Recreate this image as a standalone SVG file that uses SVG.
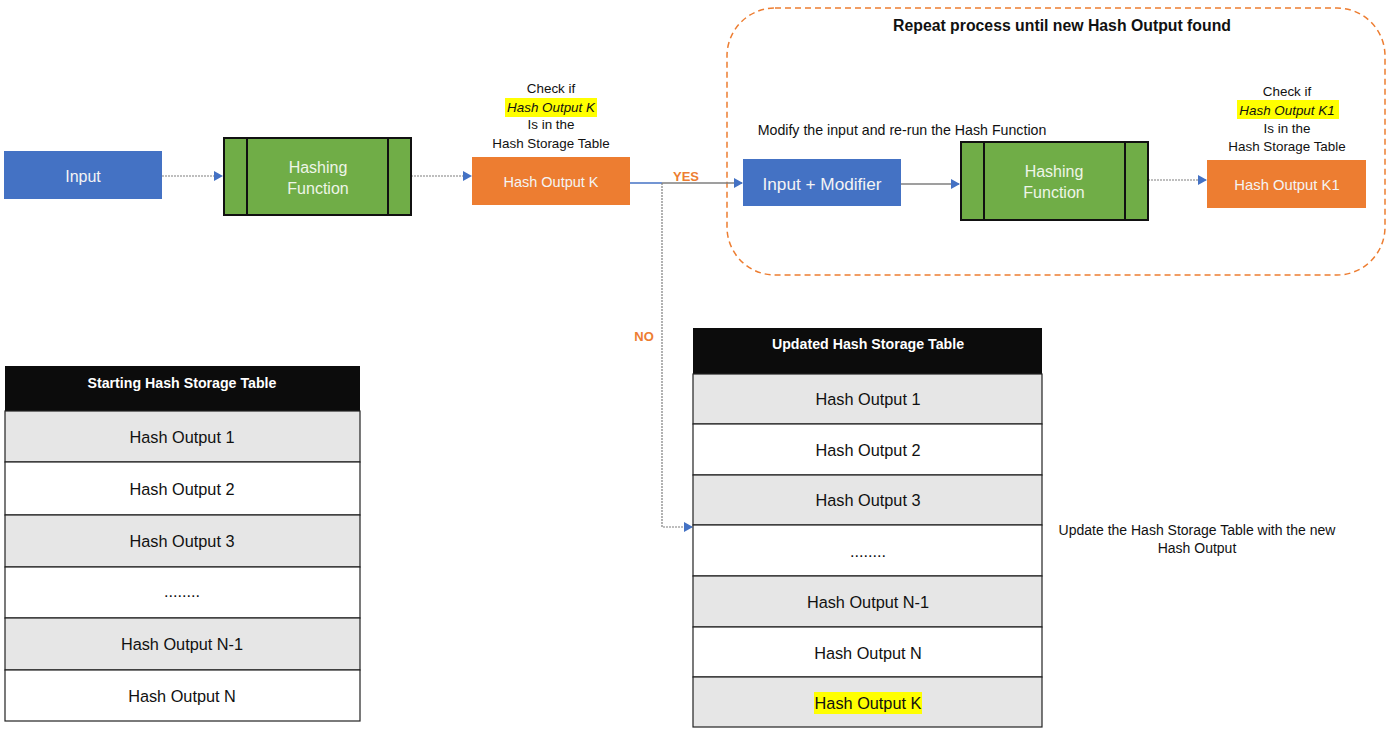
<svg xmlns="http://www.w3.org/2000/svg" width="1400" height="739" viewBox="0 0 1400 739">
<style>
text{font-family:"Liberation Sans",Arial,sans-serif;}
.box{stroke:none;}
.blue{fill:#4472C4;}
.orange{fill:#ED7D31;}
.green{fill:#70AD47;stroke:#111;stroke-width:2;}
.inner{stroke:#111;stroke-width:2;}
.wt{fill:#F4F4F4;text-anchor:middle;}
.gt{fill:#EEF5E8;text-anchor:middle;font-size:16px;}
.lbl{fill:#111;text-anchor:middle;font-size:13.4px;}
.hl{fill:#FFFF00;}
.conn{fill:none;stroke:#7F7F7F;stroke-width:1.2;stroke-dasharray:2 1;}
.conns{fill:none;stroke:#7F7F7F;stroke-width:1.3;}
.connb{fill:none;stroke:#4472C4;stroke-width:1.5;}
.ot{fill:#ED7D31;font-size:13px;font-weight:bold;text-anchor:middle;}
.hdr{fill:#0C0C0C;}
.rg{fill:#E6E6E6;stroke:#222;stroke-width:1.2;}
.rw{fill:#FFFFFF;stroke:#222;stroke-width:1.2;}
.ht{fill:#FFFFFF;font-weight:bold;font-size:14.2px;text-anchor:middle;}
.rt{fill:#111;font-size:16.3px;text-anchor:middle;}
</style>
<defs>
<marker id="ah" markerWidth="10" markerHeight="10" refX="8" refY="5" orient="auto" markerUnits="userSpaceOnUse">
<path d="M0,0 L9,5 L0,10 Z" fill="#4472C4"/>
</marker>
</defs>
<rect width="1400" height="739" fill="#FFFFFF"/>

<g id="repeat-region">
<rect x="727" y="8" width="658" height="267" rx="48" ry="48" fill="none" stroke="#ED7D31" stroke-width="1.5" stroke-dasharray="6 4"/>
<text x="1062" y="31" font-size="15.8" font-weight="bold" fill="#111" text-anchor="middle">Repeat process until new Hash Output found</text>
<text x="902" y="135" font-size="14.2" fill="#111" text-anchor="middle">Modify the input and re-run the Hash Function</text>
</g>

<g id="connectors">
<line class="conn" x1="162" y1="176" x2="222" y2="176" marker-end="url(#ah)"/>
<line class="conn" x1="411" y1="176" x2="471" y2="176" marker-end="url(#ah)"/>
<line class="connb" x1="630" y1="183" x2="662" y2="183"/>
<line class="conns" x1="662" y1="183" x2="742" y2="183" marker-end="url(#ah)"/>
<path class="conn" d="M662,183 L662,527 L692,527" marker-end="url(#ah)"/>
<line class="conns" x1="901" y1="184" x2="959" y2="184" marker-end="url(#ah)"/>
<line class="conn" x1="1148" y1="180" x2="1206" y2="180" marker-end="url(#ah)"/>
<text class="ot" x="686" y="181">YES</text>
<text class="ot" x="644" y="341">NO</text>
</g>

<g id="input">
<rect class="box blue" x="4" y="151" width="158" height="48"/>
<text class="wt" x="83" y="182" font-size="16">Input</text>
</g>

<g id="hashing-function-1">
<rect class="green" x="224" y="138" width="187" height="77"/>
<line class="inner" x1="247" y1="138" x2="247" y2="215"/>
<line class="inner" x1="388" y1="138" x2="388" y2="215"/>
<text class="gt" x="318" y="173">Hashing</text>
<text class="gt" x="318" y="194">Function</text>
</g>

<g id="hash-output-k">
<text class="lbl" x="551" y="93">Check if</text>
<rect class="hl" x="505" y="98" width="92" height="19"/>
<text class="lbl" x="551" y="112" font-style="italic">Hash Output K</text>
<text class="lbl" x="551" y="129">Is in the</text>
<text class="lbl" x="551" y="148">Hash Storage Table</text>
<rect class="box orange" x="472" y="157" width="158" height="48"/>
<text class="wt" x="551" y="187" font-size="14.5">Hash Output K</text>
</g>

<g id="input-modifier">
<rect class="box blue" x="743" y="159" width="158" height="47"/>
<text class="wt" x="822" y="190" font-size="17.2">Input + Modifier</text>
</g>

<g id="hashing-function-2">
<rect class="green" x="961" y="142" width="187" height="78"/>
<line class="inner" x1="984" y1="142" x2="984" y2="220"/>
<line class="inner" x1="1125" y1="142" x2="1125" y2="220"/>
<text class="gt" x="1054" y="177">Hashing</text>
<text class="gt" x="1054" y="198">Function</text>
</g>

<g id="hash-output-k1">
<text class="lbl" x="1287" y="96">Check if</text>
<rect class="hl" x="1237" y="100" width="102" height="19"/>
<text class="lbl" x="1287" y="115" font-style="italic">Hash Output K1</text>
<text class="lbl" x="1287" y="133">Is in the</text>
<text class="lbl" x="1287" y="151">Hash Storage Table</text>
<rect class="box orange" x="1207" y="160" width="159" height="48"/>
<text class="wt" x="1287" y="190" font-size="14.8">Hash Output K1</text>
</g>

<g id="starting-table">
<rect class="hdr" x="5" y="366" width="355" height="45"/>
<text class="ht" x="182" y="388">Starting Hash Storage Table</text>
<rect class="rg" x="5" y="411" width="355" height="51"/>
<text class="rt" x="182" y="443">Hash Output 1</text>
<rect class="rw" x="5" y="462" width="355" height="53"/>
<text class="rt" x="182" y="495">Hash Output 2</text>
<rect class="rg" x="5" y="515" width="355" height="52"/>
<text class="rt" x="182" y="547">Hash Output 3</text>
<rect class="rw" x="5" y="567" width="355" height="51"/>
<text class="rt" x="182" y="597">........</text>
<rect class="rg" x="5" y="618" width="355" height="52"/>
<text class="rt" x="182" y="650">Hash Output N-1</text>
<rect class="rw" x="5" y="670" width="355" height="51"/>
<text class="rt" x="182" y="702">Hash Output N</text>
</g>

<g id="updated-table">
<rect class="hdr" x="693" y="328" width="349" height="46"/>
<text class="ht" x="868" y="349">Updated Hash Storage Table</text>
<rect class="rg" x="693" y="374" width="349" height="50"/>
<text class="rt" x="868" y="405">Hash Output 1</text>
<rect class="rw" x="693" y="424" width="349" height="51"/>
<text class="rt" x="868" y="456">Hash Output 2</text>
<rect class="rg" x="693" y="475" width="349" height="50"/>
<text class="rt" x="868" y="506">Hash Output 3</text>
<rect class="rw" x="693" y="525" width="349" height="51"/>
<text class="rt" x="868" y="557">........</text>
<rect class="rg" x="693" y="576" width="349" height="51"/>
<text class="rt" x="868" y="608">Hash Output N-1</text>
<rect class="rw" x="693" y="627" width="349" height="50"/>
<text class="rt" x="868" y="659">Hash Output N</text>
<rect class="rg" x="693" y="677" width="349" height="50"/>
<rect class="hl" x="814" y="692" width="108" height="22"/>
<text class="rt" x="868" y="709">Hash Output K</text>
</g>

<g id="update-note">
<text x="1197" y="535" font-size="14" fill="#111" text-anchor="middle">Update the Hash Storage Table with the new</text>
<text x="1197" y="553" font-size="14" fill="#111" text-anchor="middle">Hash Output</text>
</g>
</svg>
